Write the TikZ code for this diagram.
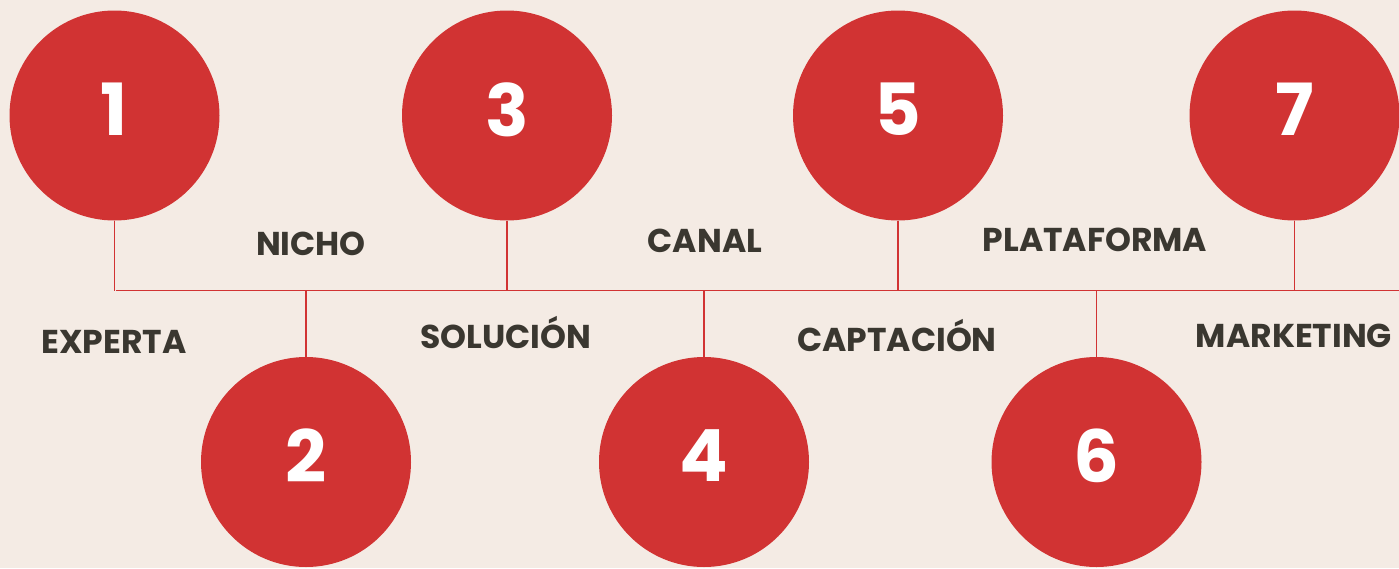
\documentclass[tikz,border=0pt]{standalone}
\usepackage{fontspec}
\setmainfont{Poppins}
\definecolor{bgcream}{HTML}{F4EBE4}
\definecolor{dotred}{HTML}{D13333}
\definecolor{labelgray}{HTML}{3A3730}
\tikzset{
numcircle/.style={
	circle, fill=dotred, minimum size=210pt, inner sep=0pt},
numtext/.style={
	text=white, yshift=6pt, font=\fontsize{72}{72}\selectfont\bfseries},
steplabel/.style={
	anchor=base, text=labelgray, font=\fontsize{33}{33}\selectfont\bfseries},
link/.style={dotred, line width=1.2pt}
}

\begin{document}
\begin{tikzpicture}[x=1pt, y=-1pt]
	\fill[bgcream] (0,0) rectangle (1399,568);
	\useasboundingbox (0,0) rectangle (1399,568);
	\clip (0,0) rectangle (1399,568);
	% timeline
	\coordinate (lineL) at (116,290.5);
	\coordinate (lineR) at (1399,290.5);
	\draw[link] (lineL) -- (lineR);
	\foreach \n/\x/\y in {1/114.5/115.5, 2/306/462, 3/507/115.5, 4/704/462,
		5/898/115.5, 6/1096.5/462, 7/1294.5/115.5}
		\node[numcircle, label={[numtext]center:\n}] (c\n) at (\x,\y) {};
	\foreach \n in {1,...,7}
		\draw[link] (c\n) -- (c\n |- lineL);
	% labels
	\node[steplabel] (lbl1) at (114,353) {EXPERTA};
	\node[steplabel] (lbl2) at (311,255) {NICHO};
	\node[steplabel] (lbl3) at (506,348) {SOLUCIÓN};
	\node[steplabel] (lbl4) at (705,252) {CANAL};
	\node[steplabel] (lbl5) at (897,351) {CAPTACIÓN};
	\node[steplabel] (lbl6) at (1095,251) {PLATAFORMA};
	\node[steplabel] (lbl7) at (1294,347) {MARKETING};
\end{tikzpicture}
\end{document}
